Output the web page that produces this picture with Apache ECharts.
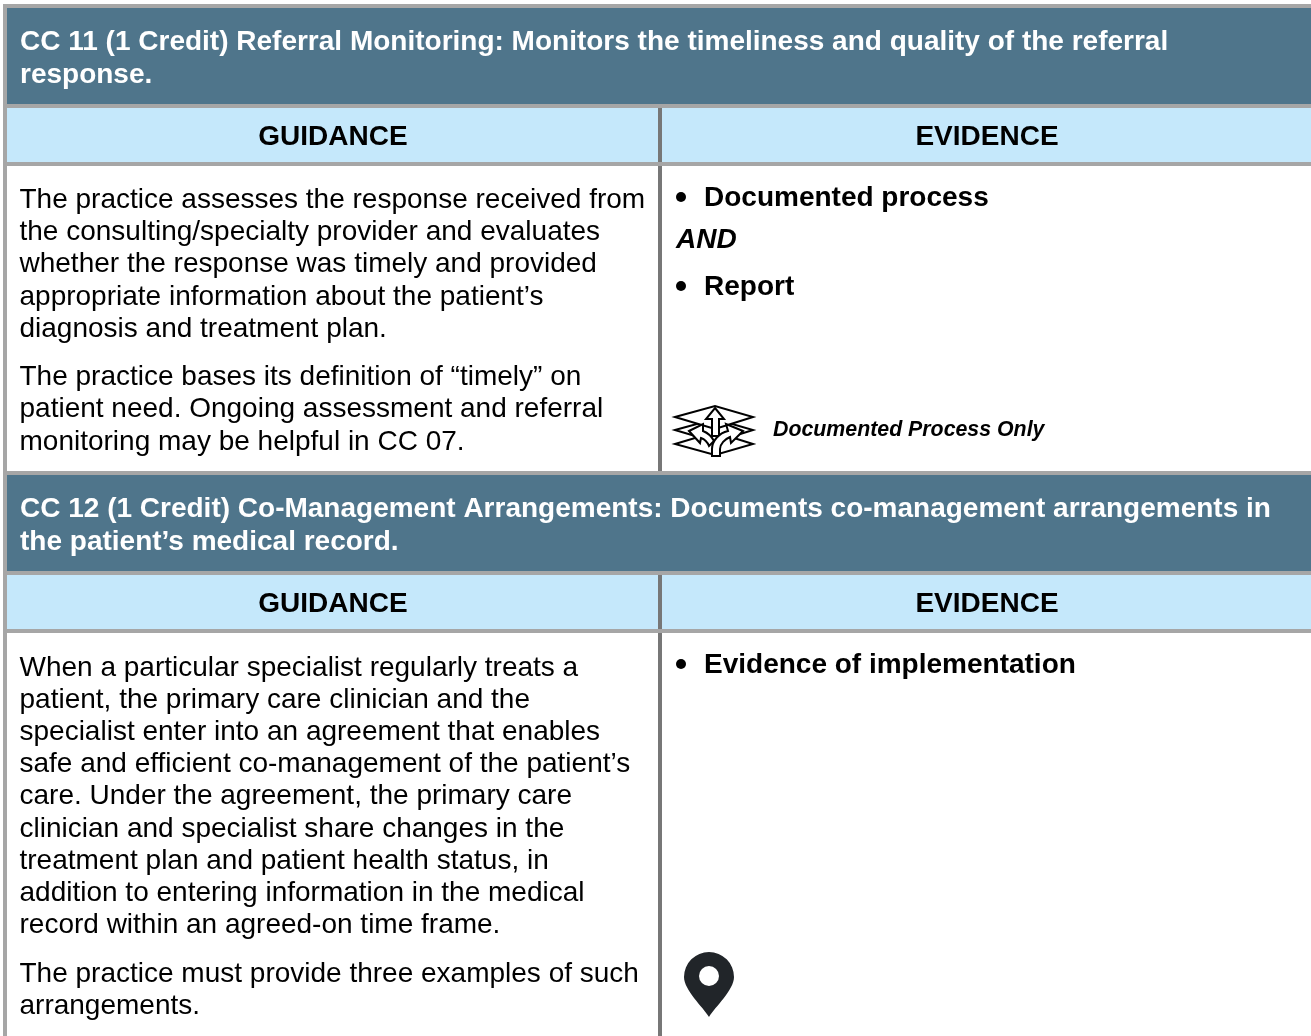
<!DOCTYPE html>
<html lang="en">
<head>
<meta charset="utf-8">
<title>CC 11 and CC 12</title>
<script src="https://cdn.jsdelivr.net/npm/echarts@6/dist/echarts.min.js"></script>
<style>
html,body{margin:0;padding:0;background:#fff}
#main{width:1311px;height:1036px}
</style>
</head>
<body>
<div id="main"></div>
<script>
// table text, line by line as wrapped in the picture
var columnTitles = ['GUIDANCE', 'EVIDENCE'];
var cc11Title = ['CC 11 (1 Credit) Referral Monitoring: Monitors the timeliness and quality of the referral', 'response.'];
var cc11Guidance = ['The practice assesses the response received from', 'the consulting/specialty provider and evaluates', 'whether the response was timely and provided', 'appropriate information about the patient\u2019s', 'diagnosis and treatment plan.'];
var cc11Guidance2 = ['The practice bases its definition of \u201ctimely\u201d on', 'patient need. Ongoing assessment and referral', 'monitoring may be helpful in CC 07.'];
var cc11Evidence = ['Documented process', 'Report'];
var cc11Joiner = 'AND';
var cc11Note = 'Documented Process Only';
var cc12Title = ['CC 12 (1 Credit) Co-Management Arrangements: Documents co-management arrangements in', 'the patient\u2019s medical record.'];
var cc12Guidance = ['When a particular specialist regularly treats a', 'patient, the primary care clinician and the', 'specialist enter into an agreement that enables', 'safe and efficient co-management of the patient\u2019s', 'care. Under the agreement, the primary care', 'clinician and specialist share changes in the', 'treatment plan and patient health status, in', 'addition to entering information in the medical', 'record within an agreed-on time frame.'];
var cc12Guidance2 = ['The practice must provide three examples of such', 'arrangements.'];
var cc12Evidence = ['Evidence of implementation'];

var FONT = '"Liberation Sans", Arial, sans-serif';
var GREY = '#a6a6a6', DIVIDER = '#777777', NAVY = '#4f758b', SKY = '#c5e8fb';
var els = [];

function box(x, y, w, h, fill) {
    els.push({type: 'rect', silent: true, shape: {x: x, y: y, width: w, height: h}, style: {fill: fill}});
}
function label(str, x, y, opt) {
    opt = opt || {};
    els.push({type: 'text', silent: true, x: x, y: y, style: {
        text: str,
        fill: opt.color || '#000',
        font: (opt.italic ? 'italic ' : '') + (opt.bold ? 'bold ' : '') + (opt.size || 28) + 'px ' + FONT,
        align: opt.align || 'left',
        verticalAlign: 'middle'
    }});
}
function lines(arr, x, ys, opt) {
    for (var i = 0; i < arr.length; i++) label(arr[i], x, ys[i] + 1, opt);
}
function bullet(x, y) {
    els.push({type: 'circle', silent: true, shape: {cx: x, cy: y, r: 5}, style: {fill: '#000'}});
}
// graphic has no plain path type, so each svg path gets registered as a shape
var shapeCount = 0;
function svgPath(d, style) {
    var name = 'svgShape' + (shapeCount++);
    echarts.graphic.registerShape(name, echarts.graphic.extendPath(d));
    els.push({type: name, silent: true, style: style});
}

// one CC block: navy title, column heads, divider
function section(top, bottom, headY) {
    box(7, top + 4, 1304, 97, NAVY);
    box(7, top + 104, 1304, 54, SKY);
    box(658, top + 104, 4, bottom - top - 104, DIVIDER);
    box(3, top, 1308, 4, GREY);
    box(3, top + 100, 1308, 4, GREY);
    box(3, top + 158, 1308, 4, GREY);
    label(columnTitles[0], 333, headY, {bold: true, align: 'center'});
    label(columnTitles[1], 987, headY, {bold: true, align: 'center'});
}
section(4, 471, 137);
section(471, 1036, 604);
box(3, 4, 4, 1032, GREY);

var head = {bold: true, color: '#fff'};
lines(cc11Title, 20, [41, 74], head);
lines(cc12Title, 20, [508, 541], head);

lines(cc11Guidance, 19.5, [199, 231, 263, 296, 328]);
lines(cc11Guidance2, 19.5, [376, 408, 441]);
lines(cc12Guidance, 19.5, [667, 699, 731, 763, 795, 828, 860, 892, 924]);
lines(cc12Guidance2, 19.5, [973, 1005]);

bullet(681, 197);
label(cc11Evidence[0], 704, 198, {bold: true});
label(cc11Joiner, 676, 240, {bold: true, italic: true});
bullet(681, 286);
label(cc11Evidence[1], 704, 287, {bold: true});
label(cc11Note, 773, 430, {bold: true, italic: true, size: 21.33});
bullet(681, 664);
label(cc12Evidence[0], 704, 665, {bold: true});

// stacked-layers icon
var layer = {fill: '#fff', stroke: '#000', lineWidth: 2};
svgPath('M675 444 L715 432 L753 444 L715 455 Z', layer);
svgPath('M675 430 L715 419 L753 430 L715 442 Z', layer);
svgPath('M675 417 L715 406 L753 417 L715 429 Z', layer);
svgPath('M715 408 L724 419 L719 419 L719 436 L712 436 L712 419 L706 419 Z', layer);
svgPath('M689 431 L703 424 L703 431 C708 433 712 437 714 441 L709 446 C707 441 704 439 701 438 L700 443 Z', layer);
svgPath('M743 431 L726 424 L728 431 C719 433 712 441 712 449 L712 456 L720 456 L720 449 C720 444 725 439 730 437 L731 443 Z', layer);

// map pin
svgPath('M709 1017 C703 1007 684 990 684 977 A25 25 0 0 1 734 977 C734 990 715 1007 709 1017 Z', {fill: '#212529'});
els.push({type: 'circle', silent: true, shape: {cx: 709, cy: 976, r: 10}, style: {fill: '#fff'}});

var myChart = echarts.init(document.getElementById('main'), null, {renderer: 'canvas'});
myChart.setOption({animation: false, backgroundColor: '#fff', graphic: {elements: els}});
</script>
</body>
</html>
